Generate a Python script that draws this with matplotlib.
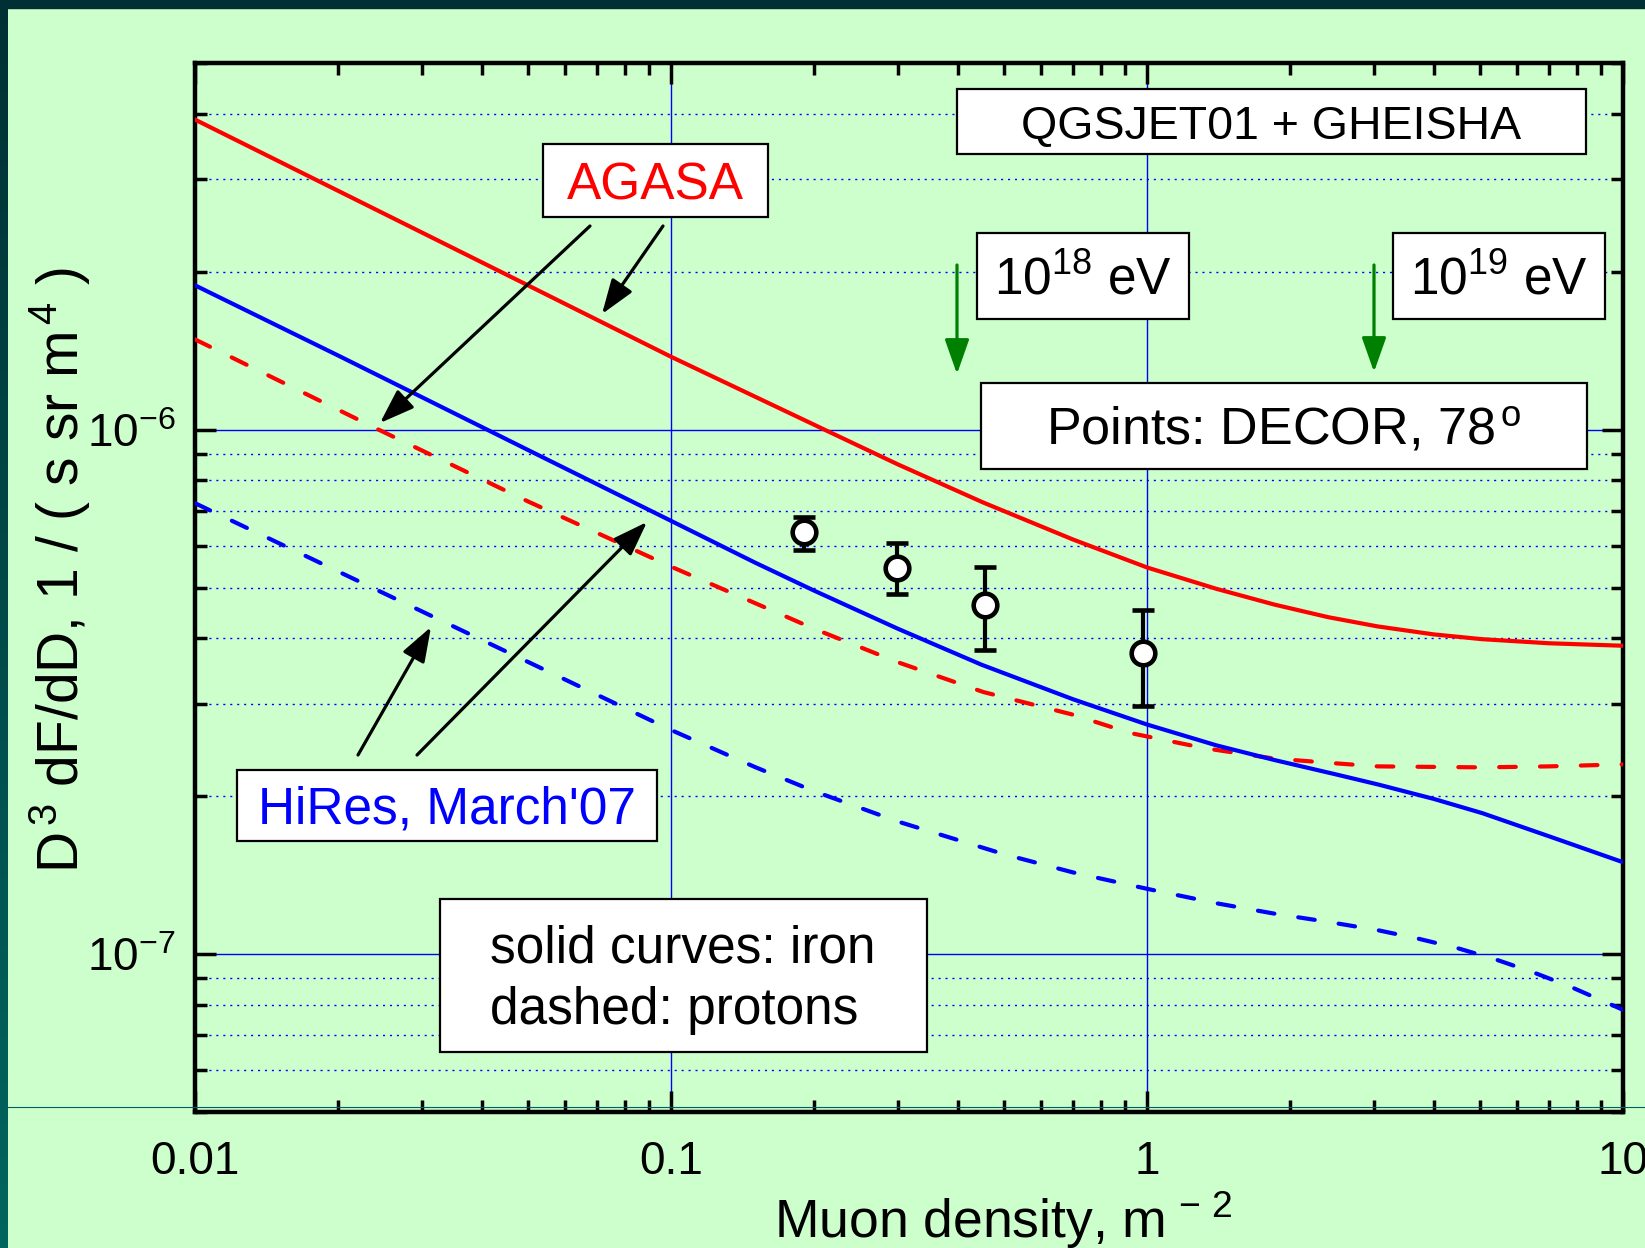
import numpy as np
import matplotlib.pyplot as plt
from matplotlib.patches import Rectangle
from matplotlib.lines import Line2D
from matplotlib.colors import LinearSegmentedColormap

plt.rcParams['font.family'] = ['Liberation Sans', 'DejaVu Sans']
plt.rcParams['mathtext.fontset'] = 'custom'
plt.rcParams['mathtext.rm'] = 'Liberation Sans'
plt.rcParams['mathtext.it'] = 'Liberation Sans:italic'
plt.rcParams['mathtext.bf'] = 'Liberation Sans:bold'
plt.rcParams['mathtext.default'] = 'regular'

# AGASA normalisation, iron (solid red)
agasa_fe_x = [0.01, 0.0263, 0.05, 0.1, 0.21, 0.3, 0.453, 0.7, 1.0, 1.4, 1.85, 2.4, 3.05, 4.0, 5.06, 7.0, 10.0]
agasa_fe_y = [3.90e-6, 2.52e-6, 1.885e-6, 1.377e-6, 1.0e-6, 8.58e-7, 7.26e-7, 6.17e-7, 5.46e-7,
              4.97e-7, 4.64e-7, 4.39e-7, 4.215e-7, 4.07e-7, 3.985e-7, 3.914e-7, 3.872e-7]

# AGASA normalisation, protons (dashed red)
agasa_p_x = [0.01, 0.0243, 0.05, 0.1, 0.2, 0.3, 0.453, 0.7, 0.921, 1.32, 1.846, 2.5, 3.05, 5.06, 7.0, 10.0]
agasa_p_y = [1.486e-6, 1.0e-6, 7.3e-7, 5.48e-7, 4.17e-7, 3.6e-7, 3.16e-7, 2.86e-7, 2.64e-7, 2.47e-7,
             2.36e-7, 2.31e-7, 2.28e-7, 2.27e-7, 2.28e-7, 2.30e-7]

# HiRes normalisation, iron (solid blue)
hires_fe_x = [0.01, 0.02, 0.05, 0.1, 0.15, 0.2, 0.3, 0.45, 0.7, 1.0, 1.4, 1.85, 2.5, 3.05, 4.0, 5.06, 7.09, 10.0]
hires_fe_y = [1.884e-6, 1.384e-6, 9.15e-7, 6.70e-7, 5.58e-7, 4.93e-7, 4.17e-7, 3.56e-7, 3.06e-7, 2.74e-7,
              2.50e-7, 2.345e-7, 2.20e-7, 2.107e-7, 1.977e-7, 1.857e-7, 1.67e-7, 1.497e-7]

# HiRes normalisation, protons (dashed blue)
hires_p_x = [0.01, 0.03, 0.1, 0.15, 0.2, 0.3, 0.5, 0.7, 1.0, 1.4, 1.846, 2.4, 3.05, 3.7, 4.5, 5.4, 6.5,
             7.7, 10.0]
hires_p_y = [7.24e-7, 4.50e-7, 2.675e-7, 2.274e-7, 2.044e-7, 1.789e-7, 1.551e-7, 1.431e-7, 1.332e-7,
             1.25e-7, 1.195e-7, 1.152e-7, 1.111e-7, 1.071e-7, 1.026e-7, 9.77e-8, 9.22e-8, 8.69e-8,
             7.83e-8]

# DECOR points, 78 deg
dec_x = [0.19, 0.299, 0.457, 0.98]
dec_y = [6.37e-7, 5.44e-7, 4.64e-7, 3.75e-7]
dec_lo = [5.90e-7, 4.86e-7, 3.80e-7, 2.97e-7]
dec_hi = [6.80e-7, 6.07e-7, 5.48e-7, 4.52e-7]

xticks = [0.01, 0.1, 1, 10]
xticklabels = ['0.01', '0.1', '1', '10']
yticks = [1e-7, 1e-6]
yticklabels = [r'$10^{-7}$', r'$10^{-6}$']

bg = '#CCFFCC'
W, H = 1645, 1248
fig = plt.figure(figsize=(W / 100, H / 100), dpi=100, facecolor=bg)

# slide frame
band = fig.add_axes([0, 0, 8 / W, 1])
band.imshow(np.linspace(0, 1, 256)[:, None], aspect='auto', extent=[0, 1, 0, 1],
            cmap=LinearSegmentedColormap.from_list('frame', ['#003034', '#00665e']))
band.axis('off')
fig.add_artist(Rectangle((0, 1 - 8 / H), 1, 8 / H, transform=fig.transFigure,
                         color='#003034', zorder=10))

ax = fig.add_axes([195 / W, 1 - 1112 / H, 1428 / W, 1049 / H])
ax.set_facecolor(bg)
ax.set_xscale('log')
ax.set_yscale('log')
ax.set_xlim(0.01, 10)
ax.set_ylim(5e-8, 5e-6)
ax.set_axisbelow(True)

ax.grid(True, which='major', color='#0000FF', lw=1.0, ls='-')
ax.yaxis.grid(True, which='minor', color='#0000FF', lw=1.0, ls=(0, (1.5, 3.5)))
ax.xaxis.grid(False, which='minor')

lw = 3.0
dash = (0, (4.0, 5.8))
ax.plot(agasa_fe_x, agasa_fe_y, color='#FF0000', lw=lw, zorder=3)
ax.plot(agasa_p_x, agasa_p_y, color='#FF0000', lw=lw, ls=dash, dash_capstyle='round', zorder=3)
ax.plot(hires_fe_x, hires_fe_y, color='#0000FF', lw=lw, zorder=3)
ax.plot(hires_p_x, hires_p_y, color='#0000FF', lw=lw, ls=dash, dash_capstyle='round', zorder=3)

yerr = [np.array(dec_y) - np.array(dec_lo), np.array(dec_hi) - np.array(dec_y)]
ax.errorbar(dec_x, dec_y, yerr=yerr, fmt='o', ms=17, mfc='white', mec='black', mew=3.3,
            ecolor='black', elinewidth=3, capsize=8, capthick=3, zorder=4)

ax.set_xticks(xticks)
ax.set_xticklabels(xticklabels)
ax.set_yticks(yticks)
ax.set_yticklabels(yticklabels)
ax.tick_params(which='both', direction='in', top=True, right=True, width=2.5, color='black')
ax.tick_params(which='major', length=15, labelsize=33)
ax.tick_params(axis='x', which='major', pad=20)
ax.tick_params(axis='y', which='major', pad=14)
ax.tick_params(which='minor', length=8.5)
for s in ax.spines.values():
    s.set_linewidth(3.2)


def fx(X):
    return (X - 195) / 1428


def fy(Y):
    return (1112 - Y) / 1049


def box(x0, y0, x1, y1, text, color='black', size=36):
    ax.add_patch(Rectangle((fx(x0), fy(y1)), fx(x1) - fx(x0), fy(y0) - fy(y1),
                           transform=ax.transAxes, facecolor='white', edgecolor='black',
                           lw=1.6, zorder=6))
    ax.text((fx(x0) + fx(x1)) / 2, fy((y0 + y1) / 2 + 5), text, transform=ax.transAxes,
            ha='center', va='center', color=color, fontsize=size, zorder=7)


box(957, 89, 1586, 154, 'QGSJET01 + GHEISHA', size=33.5)
box(543, 144, 768, 217, 'AGASA', color='#FF0000', size=37)
box(977, 233, 1189, 319, r'10$^{18}$ eV', size=37)
box(1393, 233, 1605, 319, r'10$^{19}$ eV', size=37)
box(981, 383, 1587, 469, r'Points: DECOR, 78$^{\,o}$', size=37.5)
box(237, 770, 657, 841, "HiRes, March'07", color='#0000FF', size=37)

# legend-like note
ax.add_patch(Rectangle((fx(440), fy(1052)), fx(927) - fx(440), fy(899) - fy(1052),
                       transform=ax.transAxes, facecolor='white', edgecolor='black',
                       lw=1.6, zorder=6))
ax.text(fx(490), fy(980), 'solid curves: iron\ndashed: protons', transform=ax.transAxes,
        ha='left', va='center', fontsize=37, linespacing=1.33, zorder=7)


def arrow(x0, y0, x1, y1, color='black'):
    ax.annotate('', xy=(fx(x1), fy(y1)), xytext=(fx(x0), fy(y0)),
                xycoords='axes fraction', textcoords='axes fraction',
                arrowprops=dict(arrowstyle='-|>,head_length=0.85,head_width=0.3',
                                mutation_scale=25, lw=2.3, color=color,
                                shrinkA=0, shrinkB=0), zorder=5)


arrow(590, 226, 380, 423)
arrow(663, 226, 602, 314)
arrow(358, 755, 431, 627)
arrow(417, 755, 647, 522)
arrow(957, 265, 957, 374, color='#008000')
arrow(1374, 265, 1374, 372, color='#008000')

fig.text(60 / W, 1 - 570 / H, r'D$^{\,3}$ dF/dD, 1 / ( s sr m$^{\,4}$ )', rotation=90,
         ha='center', va='center', fontsize=41)
fig.text(1003 / W, 1 - 1238 / H, r'Muon density, m$^{\,-\,2}$', ha='center', va='baseline',
         fontsize=38.5)

fig.add_artist(Line2D([8 / W, 1], [1 - 1107 / H, 1 - 1107 / H], transform=fig.transFigure,
                      color='#006060', lw=0.8, zorder=10))

fig.savefig('out.png', dpi=100, facecolor=bg)
